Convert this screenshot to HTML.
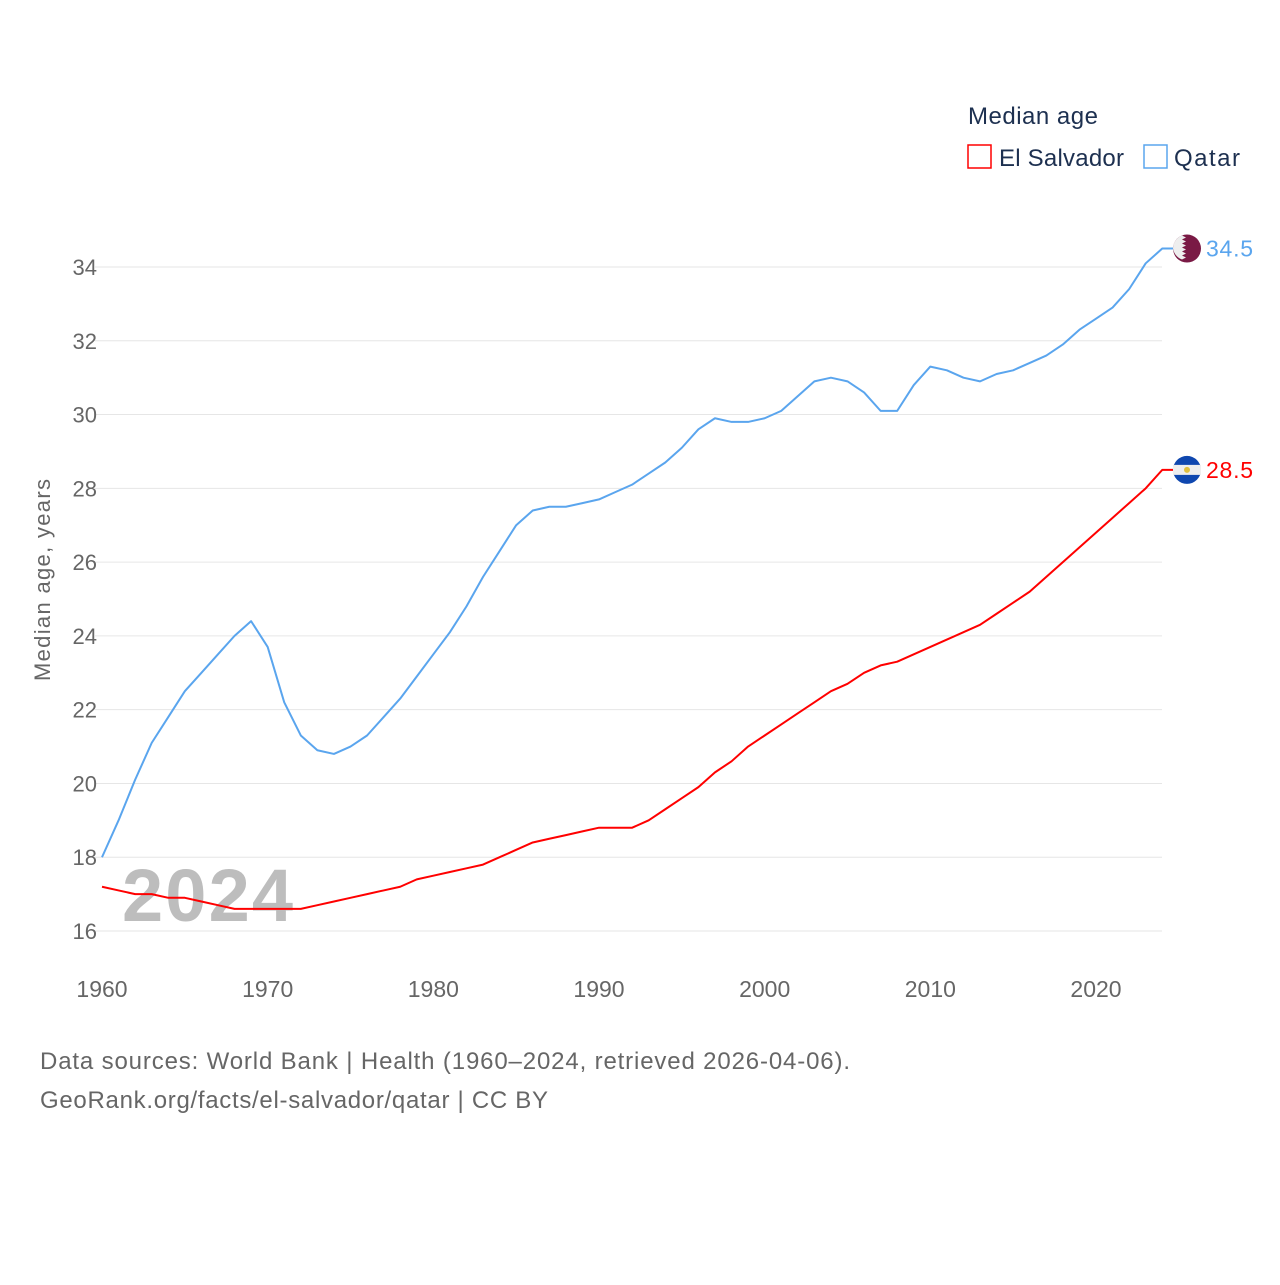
<!DOCTYPE html>
<html><head><meta charset="utf-8"><style>
body{margin:0;background:#fff;font-family:"Liberation Sans",sans-serif}
svg text{font-family:"Liberation Sans",sans-serif}
</style></head><body>
<svg id="chart" width="1280" height="1280">
<text x="968" y="124" font-size="24" fill="#1d3050" textLength="130">Median age</text>
<g><rect x="968" y="145" width="23" height="23" fill="none" stroke="#ff0000" stroke-width="1.5"/><text x="999" y="166" font-size="24" fill="#1d3050" textLength="125">El Salvador</text></g>
<g><rect x="1144" y="145" width="23" height="23" fill="none" stroke="#5aa5ee" stroke-width="1.5"/><text x="1174" y="166" font-size="24" fill="#1d3050" textLength="66">Qatar</text></g>
<text transform="translate(50,580) rotate(-90)" text-anchor="middle" font-size="22" fill="#666" textLength="202">Median age, years</text>
<g id="grid"></g><g id="yt"></g><g id="xt"></g>
<text x="122" y="921" font-size="74" font-weight="bold" fill="#bdbdbd" textLength="171">2024</text>
<g id="lines"></g>
<text x="40" y="1069" font-size="24" fill="#666" textLength="810">Data sources: World Bank | Health (1960–2024, retrieved 2026-04-06).</text>
<text x="40" y="1108" font-size="24" fill="#666" textLength="508">GeoRank.org/facts/el-salvador/qatar | CC BY</text>
</svg>
<script>
const years=[];for(let y=1960;y<=2024;y++)years.push(y);
const qatar=[18.0,19.0,20.1,21.1,21.8,22.5,23.0,23.5,24.0,24.4,23.7,22.2,21.3,20.9,20.8,21.0,21.3,21.8,22.3,22.9,23.5,24.1,24.8,25.6,26.3,27.0,27.4,27.5,27.5,27.6,27.7,27.9,28.1,28.4,28.7,29.1,29.6,29.9,29.8,29.8,29.9,30.1,30.5,30.9,31.0,30.9,30.6,30.1,30.1,30.8,31.3,31.2,31.0,30.9,31.1,31.2,31.4,31.6,31.9,32.3,32.6,32.9,33.4,34.1,34.5];
const elsalvador=[17.2,17.1,17.0,17.0,16.9,16.9,16.8,16.7,16.6,16.6,16.6,16.6,16.6,16.7,16.8,16.9,17.0,17.1,17.2,17.4,17.5,17.6,17.7,17.8,18.0,18.2,18.4,18.5,18.6,18.7,18.8,18.8,18.8,19.0,19.3,19.6,19.9,20.3,20.6,21.0,21.3,21.6,21.9,22.2,22.5,22.7,23.0,23.2,23.3,23.5,23.7,23.9,24.1,24.3,24.6,24.9,25.2,25.6,26.0,26.4,26.8,27.2,27.6,28.0,28.5];
const yTicks=[16,18,20,22,24,26,28,30,32,34];
const xTicks=[1960,1970,1980,1990,2000,2010,2020];
const X=y=>102+(y-1960)*(994/60);
const Y=v=>931-(v-16)*(664/18);
const NS="http://www.w3.org/2000/svg";
function mk(t,a,p,txt){const e=document.createElementNS(NS,t);for(const k in a)e.setAttribute(k,a[k]);if(txt!=null)e.textContent=txt;p.appendChild(e);return e;}
const grid=document.getElementById('grid'),yt=document.getElementById('yt'),xt=document.getElementById('xt'),lines=document.getElementById('lines');
yTicks.forEach(v=>{
 const l=mk('line',{x1:95,x2:1162,y1:Y(v),y2:Y(v),stroke:'#e6e6e6','stroke-width':1},grid);
 
 
 const t=mk('text',{x:97,y:Y(v)+8,'text-anchor':'end','font-size':22,fill:'#666'},yt,v);
 
 
});
xTicks.forEach(y=>{
 const t=mk('text',{x:X(y),y:997,'text-anchor':'middle','font-size':23,fill:'#666'},xt,y);
 
 
});
function series(vals,color,name,flag){
 const last=vals[vals.length-1];
 const pts=vals.map((v,i)=>X(years[i])+','+Y(v)).join(' ')+' '+(X(2024)+14)+','+Y(last);
 const p=mk('polyline',{points:pts,fill:'none',stroke:color,'stroke-width':2,'stroke-linejoin':'round'},lines);
 
 
 const g=mk('g',{},lines);
 
 
 const cx=1187,cy=Y(last);
 if(flag==='qa'){
  mk('circle',{cx,cy,r:14,fill:'#7a1a45'},g);
  mk('path',{d:`M${cx-14},${cy} A14,14 0 0 1 ${cx-5},${cy-13} l4,2 -4,2 4,2 -4,2 4,2 -4,2 4,2 -4,2 4,2 -4,2 4,2 -4,2 A14,14 0 0 1 ${cx-14},${cy}Z`,fill:'#eee'},g);
 }else{
  mk('circle',{cx,cy,r:14,fill:'#0f47af'},g);
  mk('rect',{x:cx-14,y:cy-5,width:28,height:10,fill:'#eee'},g);
  mk('circle',{cx,cy,r:3,fill:'#e0c040'},g);
 }
 const t=mk('text',{x:1206,y:cy+8,'font-size':23,fill:color,textLength:47},lines,last.toFixed(1));
 
 
}
series(qatar,'#5aa5ee','qatar','qa');
series(elsalvador,'#ff0000','el-salvador','sv');
</script>
</body></html>
